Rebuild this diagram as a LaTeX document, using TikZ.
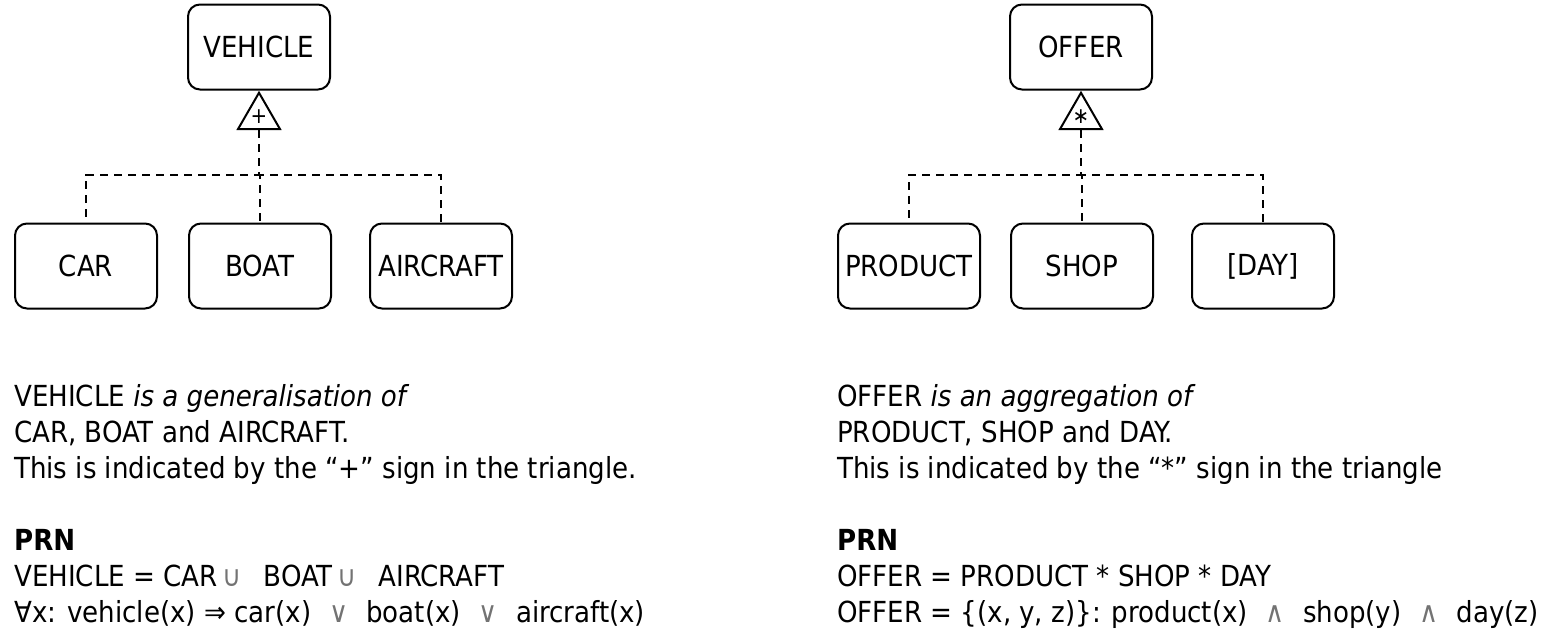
\documentclass[tikz,border=0pt]{standalone}
\usepackage{fontspec}
\setmainfont{DejaVu Sans Condensed}
\usetikzlibrary{shapes.geometric}
\tikzstyle{entity}=[draw,rounded corners=12pt,line width=2pt,minimum width=142pt,minimum height=85pt,inner sep=0pt]
\tikzstyle{isa}=[draw,regular polygon,regular polygon sides=3,minimum size=48.5pt,inner sep=0pt,line width=2pt,font=\fontsize{22}{22}\selectfont]
\tikzstyle{link}=[draw,line width=2.5pt,dash pattern=on 8pt off 6pt]
\newcommand{\op}[1]{\textcolor{black!55}{#1}}
\newcommand{\wide}{\hspace{18pt}}

\begin{document}
\begin{tikzpicture}[x=1pt,y=-1pt,font=\fontsize{29}{36}\selectfont]
    \useasboundingbox (0,0) rectangle (1543,641);
    % Draw the two supertypes and their subtypes
    % First we draw the boxes
    \foreach \pos/\name/\txt in {{(259,47)/veh/VEHICLE}, {(86,266)/car/CAR}, {(260,266)/boat/BOAT}, {(441,266)/air/AIRCRAFT},
        {(1081,47)/off/OFFER}, {(909,266)/prod/PRODUCT}, {(1082,266)/shop/SHOP}, {(1263,266)/day/[DAY]}}
        \node[entity] (\name) at \pos {\txt};
    % The triangles under the supertypes
    \node[isa] (gen) at (259,117) {+};
    \node[isa] (agg) at (1081,117) {∗};
    \coordinate (bar) at (0,175);
    % Connect triangles with the subtypes
    \foreach \source/ \dest in {gen/car, gen/boat, gen/air, agg/prod, agg/shop, agg/day}
        \path[link] (\source.south) -- (\source.south |- bar) -| (\dest.north);
    % Texts below (base is the last line)
    \node[anchor=base west,align=left,inner sep=0pt] (gentext) at (14,622) {VEHICLE \textit{is a generalisation of}\\
        CAR, BOAT and AIRCRAFT.\\
        This is indicated by the “+” sign in the triangle.\\[36pt]
        \textbf{PRN}\\
        VEHICLE = CAR\,\op{∪}\hspace{22pt}BOAT\,\op{∪}\hspace{22pt}AIRCRAFT\\
        ∀x: vehicle(x) ⇒ car(x)\wide\op{∨}\wide boat(x)\wide\op{∨}\wide aircraft(x)};
    \node[anchor=base west,align=left,inner sep=0pt] (aggtext) at (837,622) {OFFER \textit{is an aggregation of}\\
        PRODUCT, SHOP and DAY.\\
        This is indicated by the “*” sign in the triangle\\[36pt]
        \textbf{PRN}\\
        OFFER = PRODUCT * SHOP * DAY\\
        OFFER = \{(x, y, z)\}: product(x)\wide\op{∧}\wide shop(y)\wide\op{∧}\wide day(z)};
\end{tikzpicture}
\end{document}
